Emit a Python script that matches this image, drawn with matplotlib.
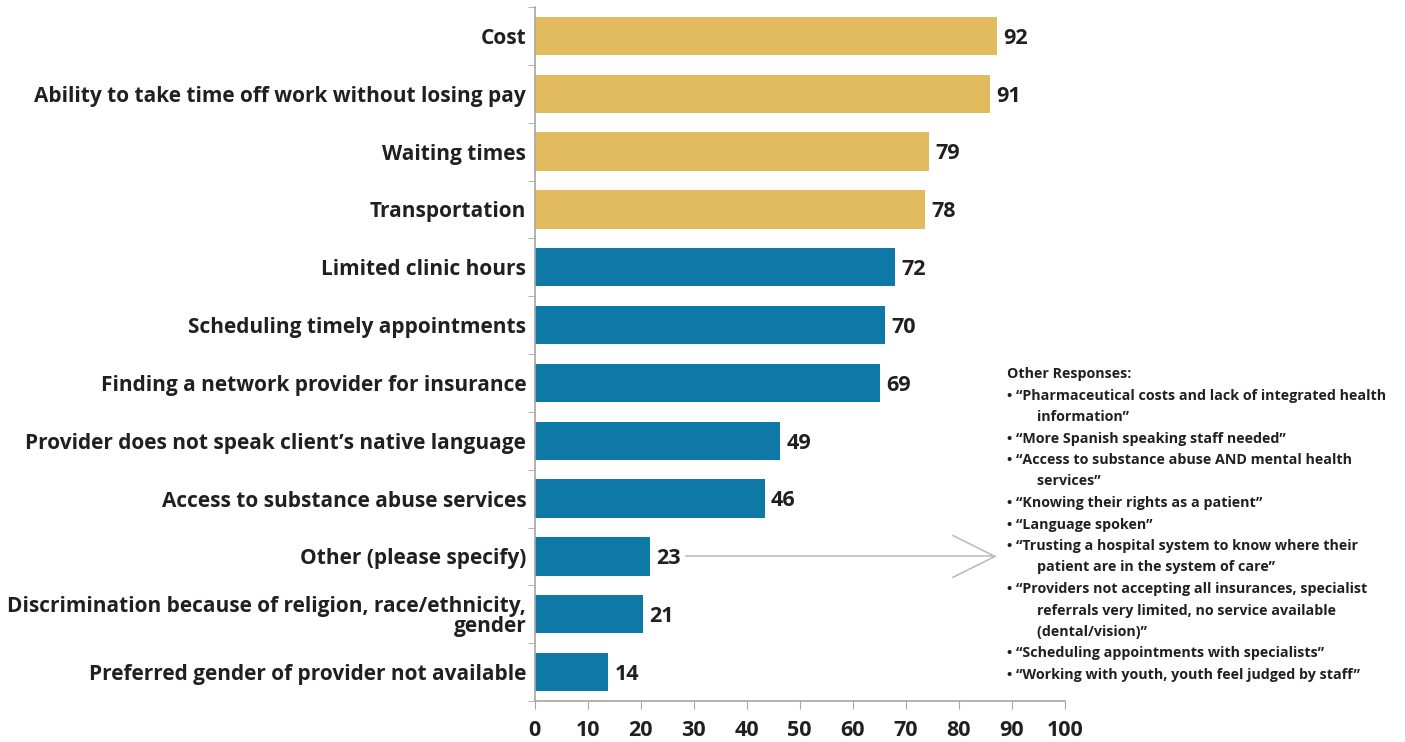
import numpy as np
import matplotlib.pyplot as plt

plt.rcParams['font.family'] = ['Open Sans', 'DejaVu Sans']

categories = ['Cost',
              'Ability to take time off work without losing pay',
              'Waiting times',
              'Transportation',
              'Limited clinic hours',
              'Scheduling timely appointments',
              'Finding a network provider for insurance',
              'Provider does not speak client\u2019s native language',
              'Access to substance abuse services',
              'Other (please specify)',
              'Discrimination because of religion, race/ethnicity,\ngender',
              'Preferred gender of provider not available']
# labelled values
values = [92, 91, 79, 78, 72, 70, 69, 49, 46, 23, 21, 14]
# bar lengths as drawn in the source (they do not quite match the labels)
bar_len = [87.1, 85.9, 74.4, 73.6, 68.0, 66.1, 65.1, 46.3, 43.4, 21.8, 20.4, 13.9]
top_n = 4  # first four bars highlighted

other_lines = ['Other Responses:',
               '\u2022 \u201cPharmaceutical costs and lack of integrated health',
               '        information\u201d',
               '\u2022 \u201cMore Spanish speaking staff needed\u201d',
               '\u2022 \u201cAccess to substance abuse AND mental health',
               '        services\u201d',
               '\u2022 \u201cKnowing their rights as a patient\u201d',
               '\u2022 \u201cLanguage spoken\u201d',
               '\u2022 \u201cTrusting a hospital system to know where their',
               '        patient are in the system of care\u201d',
               '\u2022 \u201cProviders not accepting all insurances, specialist',
               '        referrals very limited, no service available',
               '        (dental/vision)\u201d',
               '\u2022 \u201cScheduling appointments with specialists\u201d',
               '\u2022 \u201cWorking with youth, youth feel judged by staff\u201d']

GOLD = '#E1BB5E'
BLUE = '#0E78A6'
TXT = '#231F20'
GRAY = '#A6A6A6'

W, H = 1405, 742
fig = plt.figure(figsize=(W / 100, H / 100), dpi=100)
ax = fig.add_axes([534.5 / W, 1 - 701 / H, (1065 - 534.5) / W, (701 - 7) / H])

y = np.arange(len(categories))
colors = [GOLD if i < top_n else BLUE for i in range(len(categories))]
ax.barh(y, bar_len, height=0.66, color=colors)

for yi, l, v in zip(y, bar_len, values):
    ax.text(l + 1.2, yi + 0.04, str(v), va='center', ha='left', fontsize=15.5,
            fontweight='bold', color=TXT)

ax.set_xlim(0, 100)
ax.set_ylim(len(categories) - 0.5, -0.5)
ax.set_yticks(y)
ax.set_yticklabels(categories, fontsize=15, fontweight='bold', color=TXT,
                   linespacing=0.95)
ax.set_yticks(np.arange(len(categories) + 1) - 0.5, minor=True)
ax.tick_params(axis='y', which='major', length=0, pad=6)
ax.tick_params(axis='y', which='minor', length=5, color=GRAY, direction='out')
ax.set_xticks(np.arange(0, 101, 10))
ax.tick_params(axis='x', length=6, color=GRAY, direction='out', pad=8)
for lab in ax.get_xticklabels():
    lab.set_fontsize(15.5)
    lab.set_fontweight('bold')
    lab.set_color(TXT)

for s in ['top', 'right']:
    ax.spines[s].set_visible(False)
for s in ['left', 'bottom']:
    ax.spines[s].set_color(GRAY)
    ax.spines[s].set_linewidth(1.2)

# arrow from "Other" bar to the list of responses
oi = categories.index('Other (please specify)')
x0 = bar_len[oi] + 6.7
x1 = 86.8
ax.plot([x0, x1], [oi, oi], color='#BDBDBD', lw=1.2, clip_on=False)
ax.plot([x1 - 7.9, x1, x1 - 7.9], [oi - 0.36, oi, oi + 0.36], color='#BDBDBD',
        lw=1.2, clip_on=False)

# list of other responses
y_px = 374
for line in other_lines:
    fig.text(1007 / W, 1 - y_px / H, line, fontsize=10.3, fontweight='bold',
             color=TXT, va='center', ha='left')
    y_px += 21.5

fig.savefig('out.png', dpi=100)
